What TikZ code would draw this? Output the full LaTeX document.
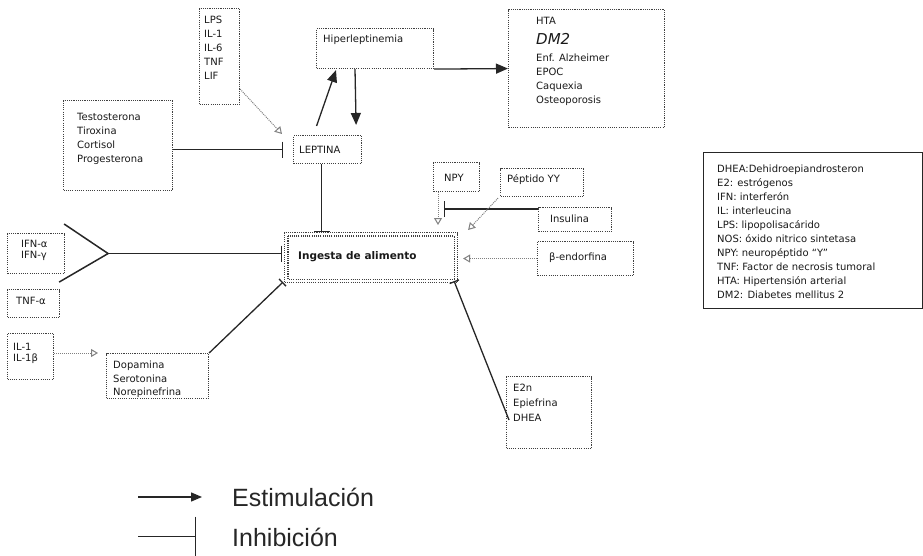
\documentclass[tikz,border=0pt]{standalone}
\usepackage{fontspec}
\setmainfont{DejaVu Sans}
\newfontfamily\arialf{Liberation Sans}
\usetikzlibrary{arrows.meta,calc}
\begin{document}
\begin{tikzpicture}[x=1pt,y=-1pt,
 bx/.style={draw=black!75, line width=1.1pt, dash pattern=on 1.1pt off 1.1pt, inner sep=0pt, anchor=north west},
 tx/.style={inner sep=0pt, anchor=north west, align=left, font=\fontsize{10}{14}\selectfont, text=black!90},
 tx1/.style={inner sep=0pt, anchor=west, font=\fontsize{10}{14}\selectfont, text=black!90},
 ln/.style={line width=1.3pt, draw=black!85},
 stim/.style={ln, -{Triangle[length=12pt,width=10pt]}},
 inh/.style={ln, -{Bar[width=16pt]}},
 inhs/.style={ln, -{Bar[width=10pt]}},
 gstim/.style={draw=black!50, line width=1pt, dash pattern=on 1pt off 1pt, -{Triangle[open,length=7pt,width=8pt]}},
 legtx/.style={inner sep=0pt, anchor=west, font=\arialf\fontsize{25}{28}\selectfont, text=black!85}]
\useasboundingbox (0,0) rectangle (923,556);

% boxes
\node[bx,minimum width=40pt,minimum height=96pt] (lps) at (199,8) {};
\node[bx,minimum width=109pt,minimum height=90pt] (test) at (63,100) {};
\node[bx,minimum width=68pt,minimum height=28pt] (lep) at (293,135) {};
\node[bx,minimum width=117pt,minimum height=40pt] (hip) at (316,28) {};
\node[bx,minimum width=156pt,minimum height=118pt] (hta) at (508,9) {};
\node[bx,minimum width=173pt,minimum height=50pt] (ing) at (284,232) {};
\draw[bx] ($(ing.north west)+(4,4)$) rectangle ($(ing.south east)+(-4,-4)$);
\node[bx,minimum width=46pt,minimum height=29pt] (npy) at (433,162) {};
\node[bx,minimum width=83pt,minimum height=28pt] (pyy) at (500,168) {};
\node[bx,minimum width=73pt,minimum height=24pt] (ins) at (538,207) {};
\node[bx,minimum width=96pt,minimum height=34pt] (bend) at (537,241) {};
\node[bx,minimum width=85pt,minimum height=72pt] (e2n) at (506,376) {};
\node[bx,minimum width=57pt,minimum height=40pt] (ifn) at (7,233) {};
\node[bx,minimum width=52pt,minimum height=28pt] (tnf) at (7,289) {};
\node[bx,minimum width=46pt,minimum height=46pt] (il1) at (7,333) {};
\node[bx,minimum width=102pt,minimum height=45pt] (dop) at (106,353) {};
\node[draw=black!85,line width=1.2pt,inner sep=0pt,anchor=north west,minimum width=219pt,minimum height=156pt] (abbr) at (703,152) {};

% texts
\node[tx] (lpst) at (204,16) {LPS\\IL-1\\IL-6\\TNF\\LIF};
\node[tx] (testt) at (77,113) {Testosterona\\Tiroxina\\Cortisol\\Progesterona};
\node[tx1] (lept) at (299,150) {LEPTINA};
\node[tx1] (hipt) at (323,40) {Hiperleptinemia};
\node[tx1] (htat1) at (536,21) {HTA};
\node[tx1,font=\fontsize{15}{18}\selectfont\itshape] (htat2) at (536,39) {DM2};
\node[tx] (htat3) at (536,54) {Enf. Alzheimer\\EPOC\\Caquexia\\Osteoporosis};
\node[tx1,font=\fontsize{10.5}{14}\selectfont\bfseries] (ingt) at (298,257) {Ingesta de alimento};
\node[tx1] (npyt) at (444,178) {NPY};
\node[tx1] (pyyt) at (507,180) {Péptido YY};
\node[tx1] (inst) at (550,219) {Insulina};
\node[tx1] (bendt) at (549,258) {β-endorfina};
\node[tx,font=\fontsize{10}{15}\selectfont] (e2nt) at (513,384) {E2n\\Epiefrina\\DHEA};
\node[tx,font=\fontsize{10}{11.5}\selectfont] (ifnt) at (21,240) {IFN-α\\IFN-γ};
\node[tx1] (tnft) at (16,301) {TNF-α};
\node[tx,font=\fontsize{10}{11.5}\selectfont] (il1t) at (13,343) {IL-1\\IL-1β};
\node[tx,font=\fontsize{10}{13.5}\selectfont] (dopt) at (113,361) {Dopamina\\Serotonina\\Norepinefrina};
\node[tx,font=\fontsize{10}{14}\selectfont] (abbrt) at (717,165) {DHEA:Dehidroepiandrosteron\\E2: estrógenos\\IFN: interferón\\IL: interleucina\\LPS: lipopolisacárido\\NOS: óxido nitrico sintetasa\\NPY: neuropéptido ``Y''\\TNF: Factor de necrosis tumoral\\HTA: Hipertensión arterial\\DM2: Diabetes mellitus 2};

% connectors
\draw[inh] (test.east |- lep.west) -- ($(lep.west)+(-10,0)$);
\draw[gstim] ($(lps.south east)+(0,-16)$) -- ($(lep.north west)+(-11,-1)$);
\draw[stim] ($(lep.north)+(-11,-9)$) -- ($(hip.south west)+(20,1)$);
\draw[stim] ($(hip.south west)+(39,0)$) -- ($(lep.north east)+(-6,-10)$);
\draw[stim] (hip.south east) -- (hta.west);
\coordinate (lepb) at ($(lep.south)+(-6,0)$);
\draw[inh] (lepb) -- (lepb |- ing.north);
\coordinate (chA) at ($(ifn.north east)+(-1,-9)$);
\coordinate (chB) at ($(ifn.south east)+(-6,8)$);
\coordinate (chT) at ($(ifn.east)+(43,0)$);
\coordinate (ingw) at ($(ing.west)+(-2,0)$);
\draw[ln,line width=1.5pt] (chA) -- (chT) -- (chB);
\draw[inh] (chT) -- (ingw |- chT);
\draw[gstim] (il1.east |- dop.north west) -- ($(dop.north west)+(-8,0)$);
\draw[inhs] (dop.north east) -- ($(ing.south west)+(-1,-1)$);
\draw[inhs] ($(e2n.north west)+(3,44)$) -- ($(ing.south east)+(-4,-2)$);
\coordinate (npyb) at ($(npy.south west)+(5,0)$);
\coordinate (npyend) at ($(npyb |- ing.north)+(0,-7)$);
\draw[gstim] (npyb) -- (npyend);
\coordinate (npyhit) at ($(npy.south west)+(11,17)$);
\draw[inh] (ins.north west |- npyhit) -- (npyhit);
\draw[gstim] ($(pyy.south west)+(-2,1)$) -- ($(ing.north east)+(10,-2)$);
\draw[gstim] (bend.west) -- ($(bend.west -| ing.east)+(5,0)$);

% legend
\coordinate (s0) at (138,497);
\coordinate (s1) at (202,497);
\draw[ln,-{Triangle[length=11pt,width=9pt]}] (s0) -- (s1);
\node[legtx] (est) at (232,497) {Estimulación};
\coordinate (i0) at (138,536);
\coordinate (i1) at (196,536);
\draw[ln,line width=1pt,-{Bar[width=39pt]}] (i0) -- (i1);
\node[legtx] (inhl) at (232,537) {Inhibición};
\end{tikzpicture}
\end{document}
